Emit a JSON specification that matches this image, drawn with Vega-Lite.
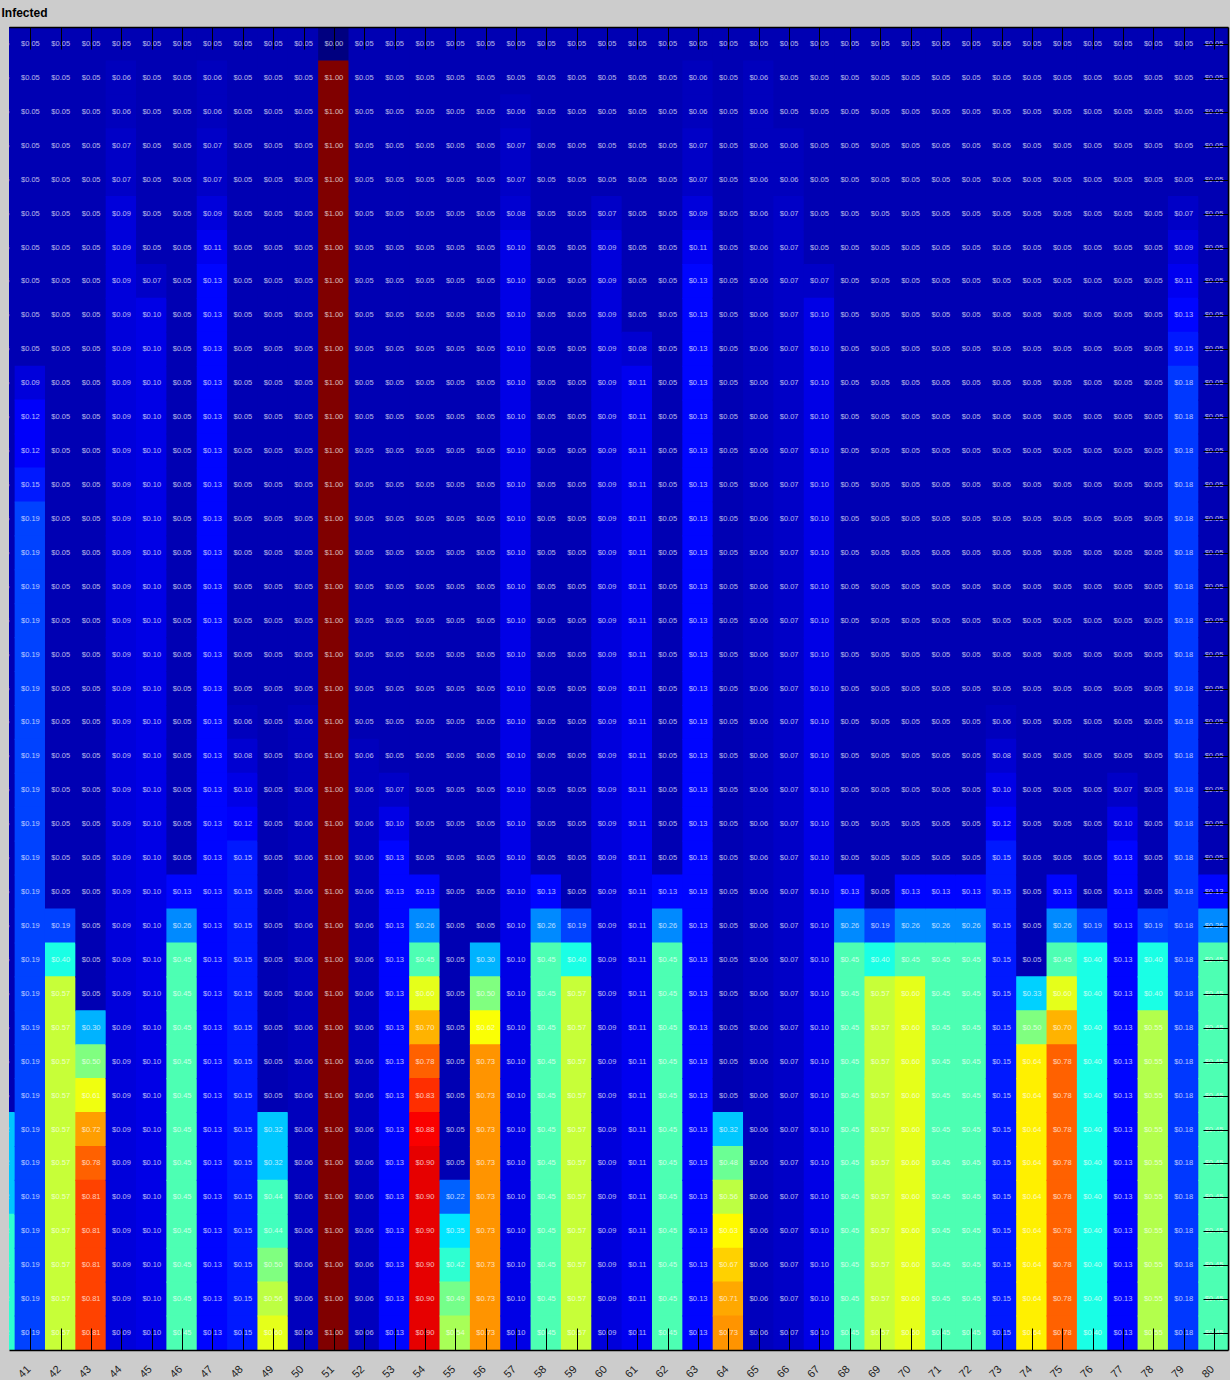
{
"$schema": "https://vega.github.io/schema/vega-lite/v6.json",
"width": 1219,
"height": 1323,
"autosize": {"type": "none"},
"padding": {"left": 9, "top": 27, "right": 2, "bottom": 30},
"background": "#cccccc",
"title": {"text": "Infected", "anchor": "start", "frame": "group", "dx": -7.5, "offset": -2, "baseline": "alphabetic", "fontSize": 12, "fontWeight": "bold", "font": "Liberation Sans", "color": "#000000"},
"config": {"font": "Liberation Sans", "view": {"stroke": null}},
"data": {"values": [
{"c":40,"r":0,"v":0.05},{"c":40,"r":1,"v":0.05},{"c":40,"r":2,"v":0.05},{"c":40,"r":3,"v":0.05},{"c":40,"r":4,"v":0.05},{"c":40,"r":5,"v":0.05},{"c":40,"r":6,"v":0.05},{"c":40,"r":7,"v":0.05},{"c":40,"r":8,"v":0.05},{"c":40,"r":9,"v":0.05},{"c":40,"r":10,"v":0.05},{"c":40,"r":11,"v":0.05},{"c":40,"r":12,"v":0.05},{"c":40,"r":13,"v":0.05},{"c":40,"r":14,"v":0.05},{"c":40,"r":15,"v":0.05},{"c":40,"r":16,"v":0.05},{"c":40,"r":17,"v":0.05},{"c":40,"r":18,"v":0.05},{"c":40,"r":19,"v":0.05},{"c":40,"r":20,"v":0.05},{"c":40,"r":21,"v":0.05},{"c":40,"r":22,"v":0.05},{"c":40,"r":23,"v":0.05},{"c":40,"r":24,"v":0.05},{"c":40,"r":25,"v":0.05},{"c":40,"r":26,"v":0.05},{"c":40,"r":27,"v":0.05},{"c":40,"r":28,"v":0.05},{"c":40,"r":29,"v":0.05},{"c":40,"r":30,"v":0.05},{"c":40,"r":31,"v":0.05},{"c":40,"r":32,"v":0.32},{"c":40,"r":33,"v":0.32},{"c":40,"r":34,"v":0.32},{"c":40,"r":35,"v":0.42},{"c":40,"r":36,"v":0.42},{"c":40,"r":37,"v":0.42},{"c":40,"r":38,"v":0.42},
{"c":41,"r":0,"v":0.05},{"c":41,"r":1,"v":0.05},{"c":41,"r":2,"v":0.05},{"c":41,"r":3,"v":0.05},{"c":41,"r":4,"v":0.05},{"c":41,"r":5,"v":0.05},{"c":41,"r":6,"v":0.05},{"c":41,"r":7,"v":0.05},{"c":41,"r":8,"v":0.05},{"c":41,"r":9,"v":0.05},{"c":41,"r":10,"v":0.09},{"c":41,"r":11,"v":0.12},{"c":41,"r":12,"v":0.12},{"c":41,"r":13,"v":0.15},{"c":41,"r":14,"v":0.19},{"c":41,"r":15,"v":0.19},{"c":41,"r":16,"v":0.19},{"c":41,"r":17,"v":0.19},{"c":41,"r":18,"v":0.19},{"c":41,"r":19,"v":0.19},{"c":41,"r":20,"v":0.19},{"c":41,"r":21,"v":0.19},{"c":41,"r":22,"v":0.19},{"c":41,"r":23,"v":0.19},{"c":41,"r":24,"v":0.19},{"c":41,"r":25,"v":0.19},{"c":41,"r":26,"v":0.19},{"c":41,"r":27,"v":0.19},{"c":41,"r":28,"v":0.19},{"c":41,"r":29,"v":0.19},{"c":41,"r":30,"v":0.19},{"c":41,"r":31,"v":0.19},{"c":41,"r":32,"v":0.19},{"c":41,"r":33,"v":0.19},{"c":41,"r":34,"v":0.19},{"c":41,"r":35,"v":0.19},{"c":41,"r":36,"v":0.19},{"c":41,"r":37,"v":0.19},{"c":41,"r":38,"v":0.19},
{"c":42,"r":0,"v":0.05},{"c":42,"r":1,"v":0.05},{"c":42,"r":2,"v":0.05},{"c":42,"r":3,"v":0.05},{"c":42,"r":4,"v":0.05},{"c":42,"r":5,"v":0.05},{"c":42,"r":6,"v":0.05},{"c":42,"r":7,"v":0.05},{"c":42,"r":8,"v":0.05},{"c":42,"r":9,"v":0.05},{"c":42,"r":10,"v":0.05},{"c":42,"r":11,"v":0.05},{"c":42,"r":12,"v":0.05},{"c":42,"r":13,"v":0.05},{"c":42,"r":14,"v":0.05},{"c":42,"r":15,"v":0.05},{"c":42,"r":16,"v":0.05},{"c":42,"r":17,"v":0.05},{"c":42,"r":18,"v":0.05},{"c":42,"r":19,"v":0.05},{"c":42,"r":20,"v":0.05},{"c":42,"r":21,"v":0.05},{"c":42,"r":22,"v":0.05},{"c":42,"r":23,"v":0.05},{"c":42,"r":24,"v":0.05},{"c":42,"r":25,"v":0.05},{"c":42,"r":26,"v":0.19},{"c":42,"r":27,"v":0.40},{"c":42,"r":28,"v":0.57},{"c":42,"r":29,"v":0.57},{"c":42,"r":30,"v":0.57},{"c":42,"r":31,"v":0.57},{"c":42,"r":32,"v":0.57},{"c":42,"r":33,"v":0.57},{"c":42,"r":34,"v":0.57},{"c":42,"r":35,"v":0.57},{"c":42,"r":36,"v":0.57},{"c":42,"r":37,"v":0.57},{"c":42,"r":38,"v":0.57},
{"c":43,"r":0,"v":0.05},{"c":43,"r":1,"v":0.05},{"c":43,"r":2,"v":0.05},{"c":43,"r":3,"v":0.05},{"c":43,"r":4,"v":0.05},{"c":43,"r":5,"v":0.05},{"c":43,"r":6,"v":0.05},{"c":43,"r":7,"v":0.05},{"c":43,"r":8,"v":0.05},{"c":43,"r":9,"v":0.05},{"c":43,"r":10,"v":0.05},{"c":43,"r":11,"v":0.05},{"c":43,"r":12,"v":0.05},{"c":43,"r":13,"v":0.05},{"c":43,"r":14,"v":0.05},{"c":43,"r":15,"v":0.05},{"c":43,"r":16,"v":0.05},{"c":43,"r":17,"v":0.05},{"c":43,"r":18,"v":0.05},{"c":43,"r":19,"v":0.05},{"c":43,"r":20,"v":0.05},{"c":43,"r":21,"v":0.05},{"c":43,"r":22,"v":0.05},{"c":43,"r":23,"v":0.05},{"c":43,"r":24,"v":0.05},{"c":43,"r":25,"v":0.05},{"c":43,"r":26,"v":0.05},{"c":43,"r":27,"v":0.05},{"c":43,"r":28,"v":0.05},{"c":43,"r":29,"v":0.30},{"c":43,"r":30,"v":0.50},{"c":43,"r":31,"v":0.61},{"c":43,"r":32,"v":0.72},{"c":43,"r":33,"v":0.78},{"c":43,"r":34,"v":0.81},{"c":43,"r":35,"v":0.81},{"c":43,"r":36,"v":0.81},{"c":43,"r":37,"v":0.81},{"c":43,"r":38,"v":0.81},
{"c":44,"r":0,"v":0.05},{"c":44,"r":1,"v":0.06},{"c":44,"r":2,"v":0.06},{"c":44,"r":3,"v":0.07},{"c":44,"r":4,"v":0.07},{"c":44,"r":5,"v":0.09},{"c":44,"r":6,"v":0.09},{"c":44,"r":7,"v":0.09},{"c":44,"r":8,"v":0.09},{"c":44,"r":9,"v":0.09},{"c":44,"r":10,"v":0.09},{"c":44,"r":11,"v":0.09},{"c":44,"r":12,"v":0.09},{"c":44,"r":13,"v":0.09},{"c":44,"r":14,"v":0.09},{"c":44,"r":15,"v":0.09},{"c":44,"r":16,"v":0.09},{"c":44,"r":17,"v":0.09},{"c":44,"r":18,"v":0.09},{"c":44,"r":19,"v":0.09},{"c":44,"r":20,"v":0.09},{"c":44,"r":21,"v":0.09},{"c":44,"r":22,"v":0.09},{"c":44,"r":23,"v":0.09},{"c":44,"r":24,"v":0.09},{"c":44,"r":25,"v":0.09},{"c":44,"r":26,"v":0.09},{"c":44,"r":27,"v":0.09},{"c":44,"r":28,"v":0.09},{"c":44,"r":29,"v":0.09},{"c":44,"r":30,"v":0.09},{"c":44,"r":31,"v":0.09},{"c":44,"r":32,"v":0.09},{"c":44,"r":33,"v":0.09},{"c":44,"r":34,"v":0.09},{"c":44,"r":35,"v":0.09},{"c":44,"r":36,"v":0.09},{"c":44,"r":37,"v":0.09},{"c":44,"r":38,"v":0.09},
{"c":45,"r":0,"v":0.05},{"c":45,"r":1,"v":0.05},{"c":45,"r":2,"v":0.05},{"c":45,"r":3,"v":0.05},{"c":45,"r":4,"v":0.05},{"c":45,"r":5,"v":0.05},{"c":45,"r":6,"v":0.05},{"c":45,"r":7,"v":0.07},{"c":45,"r":8,"v":0.10},{"c":45,"r":9,"v":0.10},{"c":45,"r":10,"v":0.10},{"c":45,"r":11,"v":0.10},{"c":45,"r":12,"v":0.10},{"c":45,"r":13,"v":0.10},{"c":45,"r":14,"v":0.10},{"c":45,"r":15,"v":0.10},{"c":45,"r":16,"v":0.10},{"c":45,"r":17,"v":0.10},{"c":45,"r":18,"v":0.10},{"c":45,"r":19,"v":0.10},{"c":45,"r":20,"v":0.10},{"c":45,"r":21,"v":0.10},{"c":45,"r":22,"v":0.10},{"c":45,"r":23,"v":0.10},{"c":45,"r":24,"v":0.10},{"c":45,"r":25,"v":0.10},{"c":45,"r":26,"v":0.10},{"c":45,"r":27,"v":0.10},{"c":45,"r":28,"v":0.10},{"c":45,"r":29,"v":0.10},{"c":45,"r":30,"v":0.10},{"c":45,"r":31,"v":0.10},{"c":45,"r":32,"v":0.10},{"c":45,"r":33,"v":0.10},{"c":45,"r":34,"v":0.10},{"c":45,"r":35,"v":0.10},{"c":45,"r":36,"v":0.10},{"c":45,"r":37,"v":0.10},{"c":45,"r":38,"v":0.10},
{"c":46,"r":0,"v":0.05},{"c":46,"r":1,"v":0.05},{"c":46,"r":2,"v":0.05},{"c":46,"r":3,"v":0.05},{"c":46,"r":4,"v":0.05},{"c":46,"r":5,"v":0.05},{"c":46,"r":6,"v":0.05},{"c":46,"r":7,"v":0.05},{"c":46,"r":8,"v":0.05},{"c":46,"r":9,"v":0.05},{"c":46,"r":10,"v":0.05},{"c":46,"r":11,"v":0.05},{"c":46,"r":12,"v":0.05},{"c":46,"r":13,"v":0.05},{"c":46,"r":14,"v":0.05},{"c":46,"r":15,"v":0.05},{"c":46,"r":16,"v":0.05},{"c":46,"r":17,"v":0.05},{"c":46,"r":18,"v":0.05},{"c":46,"r":19,"v":0.05},{"c":46,"r":20,"v":0.05},{"c":46,"r":21,"v":0.05},{"c":46,"r":22,"v":0.05},{"c":46,"r":23,"v":0.05},{"c":46,"r":24,"v":0.05},{"c":46,"r":25,"v":0.13},{"c":46,"r":26,"v":0.26},{"c":46,"r":27,"v":0.45},{"c":46,"r":28,"v":0.45},{"c":46,"r":29,"v":0.45},{"c":46,"r":30,"v":0.45},{"c":46,"r":31,"v":0.45},{"c":46,"r":32,"v":0.45},{"c":46,"r":33,"v":0.45},{"c":46,"r":34,"v":0.45},{"c":46,"r":35,"v":0.45},{"c":46,"r":36,"v":0.45},{"c":46,"r":37,"v":0.45},{"c":46,"r":38,"v":0.45},
{"c":47,"r":0,"v":0.05},{"c":47,"r":1,"v":0.06},{"c":47,"r":2,"v":0.06},{"c":47,"r":3,"v":0.07},{"c":47,"r":4,"v":0.07},{"c":47,"r":5,"v":0.09},{"c":47,"r":6,"v":0.11},{"c":47,"r":7,"v":0.13},{"c":47,"r":8,"v":0.13},{"c":47,"r":9,"v":0.13},{"c":47,"r":10,"v":0.13},{"c":47,"r":11,"v":0.13},{"c":47,"r":12,"v":0.13},{"c":47,"r":13,"v":0.13},{"c":47,"r":14,"v":0.13},{"c":47,"r":15,"v":0.13},{"c":47,"r":16,"v":0.13},{"c":47,"r":17,"v":0.13},{"c":47,"r":18,"v":0.13},{"c":47,"r":19,"v":0.13},{"c":47,"r":20,"v":0.13},{"c":47,"r":21,"v":0.13},{"c":47,"r":22,"v":0.13},{"c":47,"r":23,"v":0.13},{"c":47,"r":24,"v":0.13},{"c":47,"r":25,"v":0.13},{"c":47,"r":26,"v":0.13},{"c":47,"r":27,"v":0.13},{"c":47,"r":28,"v":0.13},{"c":47,"r":29,"v":0.13},{"c":47,"r":30,"v":0.13},{"c":47,"r":31,"v":0.13},{"c":47,"r":32,"v":0.13},{"c":47,"r":33,"v":0.13},{"c":47,"r":34,"v":0.13},{"c":47,"r":35,"v":0.13},{"c":47,"r":36,"v":0.13},{"c":47,"r":37,"v":0.13},{"c":47,"r":38,"v":0.13},
{"c":48,"r":0,"v":0.05},{"c":48,"r":1,"v":0.05},{"c":48,"r":2,"v":0.05},{"c":48,"r":3,"v":0.05},{"c":48,"r":4,"v":0.05},{"c":48,"r":5,"v":0.05},{"c":48,"r":6,"v":0.05},{"c":48,"r":7,"v":0.05},{"c":48,"r":8,"v":0.05},{"c":48,"r":9,"v":0.05},{"c":48,"r":10,"v":0.05},{"c":48,"r":11,"v":0.05},{"c":48,"r":12,"v":0.05},{"c":48,"r":13,"v":0.05},{"c":48,"r":14,"v":0.05},{"c":48,"r":15,"v":0.05},{"c":48,"r":16,"v":0.05},{"c":48,"r":17,"v":0.05},{"c":48,"r":18,"v":0.05},{"c":48,"r":19,"v":0.05},{"c":48,"r":20,"v":0.06},{"c":48,"r":21,"v":0.08},{"c":48,"r":22,"v":0.10},{"c":48,"r":23,"v":0.12},{"c":48,"r":24,"v":0.15},{"c":48,"r":25,"v":0.15},{"c":48,"r":26,"v":0.15},{"c":48,"r":27,"v":0.15},{"c":48,"r":28,"v":0.15},{"c":48,"r":29,"v":0.15},{"c":48,"r":30,"v":0.15},{"c":48,"r":31,"v":0.15},{"c":48,"r":32,"v":0.15},{"c":48,"r":33,"v":0.15},{"c":48,"r":34,"v":0.15},{"c":48,"r":35,"v":0.15},{"c":48,"r":36,"v":0.15},{"c":48,"r":37,"v":0.15},{"c":48,"r":38,"v":0.15},
{"c":49,"r":0,"v":0.05},{"c":49,"r":1,"v":0.05},{"c":49,"r":2,"v":0.05},{"c":49,"r":3,"v":0.05},{"c":49,"r":4,"v":0.05},{"c":49,"r":5,"v":0.05},{"c":49,"r":6,"v":0.05},{"c":49,"r":7,"v":0.05},{"c":49,"r":8,"v":0.05},{"c":49,"r":9,"v":0.05},{"c":49,"r":10,"v":0.05},{"c":49,"r":11,"v":0.05},{"c":49,"r":12,"v":0.05},{"c":49,"r":13,"v":0.05},{"c":49,"r":14,"v":0.05},{"c":49,"r":15,"v":0.05},{"c":49,"r":16,"v":0.05},{"c":49,"r":17,"v":0.05},{"c":49,"r":18,"v":0.05},{"c":49,"r":19,"v":0.05},{"c":49,"r":20,"v":0.05},{"c":49,"r":21,"v":0.05},{"c":49,"r":22,"v":0.05},{"c":49,"r":23,"v":0.05},{"c":49,"r":24,"v":0.05},{"c":49,"r":25,"v":0.05},{"c":49,"r":26,"v":0.05},{"c":49,"r":27,"v":0.05},{"c":49,"r":28,"v":0.05},{"c":49,"r":29,"v":0.05},{"c":49,"r":30,"v":0.05},{"c":49,"r":31,"v":0.05},{"c":49,"r":32,"v":0.32},{"c":49,"r":33,"v":0.32},{"c":49,"r":34,"v":0.44},{"c":49,"r":35,"v":0.44},{"c":49,"r":36,"v":0.50},{"c":49,"r":37,"v":0.56},{"c":49,"r":38,"v":0.60},
{"c":50,"r":0,"v":0.05},{"c":50,"r":1,"v":0.05},{"c":50,"r":2,"v":0.05},{"c":50,"r":3,"v":0.05},{"c":50,"r":4,"v":0.05},{"c":50,"r":5,"v":0.05},{"c":50,"r":6,"v":0.05},{"c":50,"r":7,"v":0.05},{"c":50,"r":8,"v":0.05},{"c":50,"r":9,"v":0.05},{"c":50,"r":10,"v":0.05},{"c":50,"r":11,"v":0.05},{"c":50,"r":12,"v":0.05},{"c":50,"r":13,"v":0.05},{"c":50,"r":14,"v":0.05},{"c":50,"r":15,"v":0.05},{"c":50,"r":16,"v":0.05},{"c":50,"r":17,"v":0.05},{"c":50,"r":18,"v":0.05},{"c":50,"r":19,"v":0.05},{"c":50,"r":20,"v":0.06},{"c":50,"r":21,"v":0.06},{"c":50,"r":22,"v":0.06},{"c":50,"r":23,"v":0.06},{"c":50,"r":24,"v":0.06},{"c":50,"r":25,"v":0.06},{"c":50,"r":26,"v":0.06},{"c":50,"r":27,"v":0.06},{"c":50,"r":28,"v":0.06},{"c":50,"r":29,"v":0.06},{"c":50,"r":30,"v":0.06},{"c":50,"r":31,"v":0.06},{"c":50,"r":32,"v":0.06},{"c":50,"r":33,"v":0.06},{"c":50,"r":34,"v":0.06},{"c":50,"r":35,"v":0.06},{"c":50,"r":36,"v":0.06},{"c":50,"r":37,"v":0.06},{"c":50,"r":38,"v":0.06},
{"c":51,"r":0,"v":0},{"c":51,"r":1,"v":1},{"c":51,"r":2,"v":1},{"c":51,"r":3,"v":1},{"c":51,"r":4,"v":1},{"c":51,"r":5,"v":1},{"c":51,"r":6,"v":1},{"c":51,"r":7,"v":1},{"c":51,"r":8,"v":1},{"c":51,"r":9,"v":1},{"c":51,"r":10,"v":1},{"c":51,"r":11,"v":1},{"c":51,"r":12,"v":1},{"c":51,"r":13,"v":1},{"c":51,"r":14,"v":1},{"c":51,"r":15,"v":1},{"c":51,"r":16,"v":1},{"c":51,"r":17,"v":1},{"c":51,"r":18,"v":1},{"c":51,"r":19,"v":1},{"c":51,"r":20,"v":1},{"c":51,"r":21,"v":1},{"c":51,"r":22,"v":1},{"c":51,"r":23,"v":1},{"c":51,"r":24,"v":1},{"c":51,"r":25,"v":1},{"c":51,"r":26,"v":1},{"c":51,"r":27,"v":1},{"c":51,"r":28,"v":1},{"c":51,"r":29,"v":1},{"c":51,"r":30,"v":1},{"c":51,"r":31,"v":1},{"c":51,"r":32,"v":1},{"c":51,"r":33,"v":1},{"c":51,"r":34,"v":1},{"c":51,"r":35,"v":1},{"c":51,"r":36,"v":1},{"c":51,"r":37,"v":1},{"c":51,"r":38,"v":1},
{"c":52,"r":0,"v":0.05},{"c":52,"r":1,"v":0.05},{"c":52,"r":2,"v":0.05},{"c":52,"r":3,"v":0.05},{"c":52,"r":4,"v":0.05},{"c":52,"r":5,"v":0.05},{"c":52,"r":6,"v":0.05},{"c":52,"r":7,"v":0.05},{"c":52,"r":8,"v":0.05},{"c":52,"r":9,"v":0.05},{"c":52,"r":10,"v":0.05},{"c":52,"r":11,"v":0.05},{"c":52,"r":12,"v":0.05},{"c":52,"r":13,"v":0.05},{"c":52,"r":14,"v":0.05},{"c":52,"r":15,"v":0.05},{"c":52,"r":16,"v":0.05},{"c":52,"r":17,"v":0.05},{"c":52,"r":18,"v":0.05},{"c":52,"r":19,"v":0.05},{"c":52,"r":20,"v":0.05},{"c":52,"r":21,"v":0.06},{"c":52,"r":22,"v":0.06},{"c":52,"r":23,"v":0.06},{"c":52,"r":24,"v":0.06},{"c":52,"r":25,"v":0.06},{"c":52,"r":26,"v":0.06},{"c":52,"r":27,"v":0.06},{"c":52,"r":28,"v":0.06},{"c":52,"r":29,"v":0.06},{"c":52,"r":30,"v":0.06},{"c":52,"r":31,"v":0.06},{"c":52,"r":32,"v":0.06},{"c":52,"r":33,"v":0.06},{"c":52,"r":34,"v":0.06},{"c":52,"r":35,"v":0.06},{"c":52,"r":36,"v":0.06},{"c":52,"r":37,"v":0.06},{"c":52,"r":38,"v":0.06},
{"c":53,"r":0,"v":0.05},{"c":53,"r":1,"v":0.05},{"c":53,"r":2,"v":0.05},{"c":53,"r":3,"v":0.05},{"c":53,"r":4,"v":0.05},{"c":53,"r":5,"v":0.05},{"c":53,"r":6,"v":0.05},{"c":53,"r":7,"v":0.05},{"c":53,"r":8,"v":0.05},{"c":53,"r":9,"v":0.05},{"c":53,"r":10,"v":0.05},{"c":53,"r":11,"v":0.05},{"c":53,"r":12,"v":0.05},{"c":53,"r":13,"v":0.05},{"c":53,"r":14,"v":0.05},{"c":53,"r":15,"v":0.05},{"c":53,"r":16,"v":0.05},{"c":53,"r":17,"v":0.05},{"c":53,"r":18,"v":0.05},{"c":53,"r":19,"v":0.05},{"c":53,"r":20,"v":0.05},{"c":53,"r":21,"v":0.05},{"c":53,"r":22,"v":0.07},{"c":53,"r":23,"v":0.10},{"c":53,"r":24,"v":0.13},{"c":53,"r":25,"v":0.13},{"c":53,"r":26,"v":0.13},{"c":53,"r":27,"v":0.13},{"c":53,"r":28,"v":0.13},{"c":53,"r":29,"v":0.13},{"c":53,"r":30,"v":0.13},{"c":53,"r":31,"v":0.13},{"c":53,"r":32,"v":0.13},{"c":53,"r":33,"v":0.13},{"c":53,"r":34,"v":0.13},{"c":53,"r":35,"v":0.13},{"c":53,"r":36,"v":0.13},{"c":53,"r":37,"v":0.13},{"c":53,"r":38,"v":0.13},
{"c":54,"r":0,"v":0.05},{"c":54,"r":1,"v":0.05},{"c":54,"r":2,"v":0.05},{"c":54,"r":3,"v":0.05},{"c":54,"r":4,"v":0.05},{"c":54,"r":5,"v":0.05},{"c":54,"r":6,"v":0.05},{"c":54,"r":7,"v":0.05},{"c":54,"r":8,"v":0.05},{"c":54,"r":9,"v":0.05},{"c":54,"r":10,"v":0.05},{"c":54,"r":11,"v":0.05},{"c":54,"r":12,"v":0.05},{"c":54,"r":13,"v":0.05},{"c":54,"r":14,"v":0.05},{"c":54,"r":15,"v":0.05},{"c":54,"r":16,"v":0.05},{"c":54,"r":17,"v":0.05},{"c":54,"r":18,"v":0.05},{"c":54,"r":19,"v":0.05},{"c":54,"r":20,"v":0.05},{"c":54,"r":21,"v":0.05},{"c":54,"r":22,"v":0.05},{"c":54,"r":23,"v":0.05},{"c":54,"r":24,"v":0.05},{"c":54,"r":25,"v":0.13},{"c":54,"r":26,"v":0.26},{"c":54,"r":27,"v":0.45},{"c":54,"r":28,"v":0.60},{"c":54,"r":29,"v":0.70},{"c":54,"r":30,"v":0.78},{"c":54,"r":31,"v":0.83},{"c":54,"r":32,"v":0.88},{"c":54,"r":33,"v":0.90},{"c":54,"r":34,"v":0.90},{"c":54,"r":35,"v":0.90},{"c":54,"r":36,"v":0.90},{"c":54,"r":37,"v":0.90},{"c":54,"r":38,"v":0.90},
{"c":55,"r":0,"v":0.05},{"c":55,"r":1,"v":0.05},{"c":55,"r":2,"v":0.05},{"c":55,"r":3,"v":0.05},{"c":55,"r":4,"v":0.05},{"c":55,"r":5,"v":0.05},{"c":55,"r":6,"v":0.05},{"c":55,"r":7,"v":0.05},{"c":55,"r":8,"v":0.05},{"c":55,"r":9,"v":0.05},{"c":55,"r":10,"v":0.05},{"c":55,"r":11,"v":0.05},{"c":55,"r":12,"v":0.05},{"c":55,"r":13,"v":0.05},{"c":55,"r":14,"v":0.05},{"c":55,"r":15,"v":0.05},{"c":55,"r":16,"v":0.05},{"c":55,"r":17,"v":0.05},{"c":55,"r":18,"v":0.05},{"c":55,"r":19,"v":0.05},{"c":55,"r":20,"v":0.05},{"c":55,"r":21,"v":0.05},{"c":55,"r":22,"v":0.05},{"c":55,"r":23,"v":0.05},{"c":55,"r":24,"v":0.05},{"c":55,"r":25,"v":0.05},{"c":55,"r":26,"v":0.05},{"c":55,"r":27,"v":0.05},{"c":55,"r":28,"v":0.05},{"c":55,"r":29,"v":0.05},{"c":55,"r":30,"v":0.05},{"c":55,"r":31,"v":0.05},{"c":55,"r":32,"v":0.05},{"c":55,"r":33,"v":0.05},{"c":55,"r":34,"v":0.22},{"c":55,"r":35,"v":0.35},{"c":55,"r":36,"v":0.42},{"c":55,"r":37,"v":0.49},{"c":55,"r":38,"v":0.54},
{"c":56,"r":0,"v":0.05},{"c":56,"r":1,"v":0.05},{"c":56,"r":2,"v":0.05},{"c":56,"r":3,"v":0.05},{"c":56,"r":4,"v":0.05},{"c":56,"r":5,"v":0.05},{"c":56,"r":6,"v":0.05},{"c":56,"r":7,"v":0.05},{"c":56,"r":8,"v":0.05},{"c":56,"r":9,"v":0.05},{"c":56,"r":10,"v":0.05},{"c":56,"r":11,"v":0.05},{"c":56,"r":12,"v":0.05},{"c":56,"r":13,"v":0.05},{"c":56,"r":14,"v":0.05},{"c":56,"r":15,"v":0.05},{"c":56,"r":16,"v":0.05},{"c":56,"r":17,"v":0.05},{"c":56,"r":18,"v":0.05},{"c":56,"r":19,"v":0.05},{"c":56,"r":20,"v":0.05},{"c":56,"r":21,"v":0.05},{"c":56,"r":22,"v":0.05},{"c":56,"r":23,"v":0.05},{"c":56,"r":24,"v":0.05},{"c":56,"r":25,"v":0.05},{"c":56,"r":26,"v":0.05},{"c":56,"r":27,"v":0.30},{"c":56,"r":28,"v":0.50},{"c":56,"r":29,"v":0.62},{"c":56,"r":30,"v":0.73},{"c":56,"r":31,"v":0.73},{"c":56,"r":32,"v":0.73},{"c":56,"r":33,"v":0.73},{"c":56,"r":34,"v":0.73},{"c":56,"r":35,"v":0.73},{"c":56,"r":36,"v":0.73},{"c":56,"r":37,"v":0.73},{"c":56,"r":38,"v":0.73},
{"c":57,"r":0,"v":0.05},{"c":57,"r":1,"v":0.05},{"c":57,"r":2,"v":0.06},{"c":57,"r":3,"v":0.07},{"c":57,"r":4,"v":0.07},{"c":57,"r":5,"v":0.08},{"c":57,"r":6,"v":0.10},{"c":57,"r":7,"v":0.10},{"c":57,"r":8,"v":0.10},{"c":57,"r":9,"v":0.10},{"c":57,"r":10,"v":0.10},{"c":57,"r":11,"v":0.10},{"c":57,"r":12,"v":0.10},{"c":57,"r":13,"v":0.10},{"c":57,"r":14,"v":0.10},{"c":57,"r":15,"v":0.10},{"c":57,"r":16,"v":0.10},{"c":57,"r":17,"v":0.10},{"c":57,"r":18,"v":0.10},{"c":57,"r":19,"v":0.10},{"c":57,"r":20,"v":0.10},{"c":57,"r":21,"v":0.10},{"c":57,"r":22,"v":0.10},{"c":57,"r":23,"v":0.10},{"c":57,"r":24,"v":0.10},{"c":57,"r":25,"v":0.10},{"c":57,"r":26,"v":0.10},{"c":57,"r":27,"v":0.10},{"c":57,"r":28,"v":0.10},{"c":57,"r":29,"v":0.10},{"c":57,"r":30,"v":0.10},{"c":57,"r":31,"v":0.10},{"c":57,"r":32,"v":0.10},{"c":57,"r":33,"v":0.10},{"c":57,"r":34,"v":0.10},{"c":57,"r":35,"v":0.10},{"c":57,"r":36,"v":0.10},{"c":57,"r":37,"v":0.10},{"c":57,"r":38,"v":0.10},
{"c":58,"r":0,"v":0.05},{"c":58,"r":1,"v":0.05},{"c":58,"r":2,"v":0.05},{"c":58,"r":3,"v":0.05},{"c":58,"r":4,"v":0.05},{"c":58,"r":5,"v":0.05},{"c":58,"r":6,"v":0.05},{"c":58,"r":7,"v":0.05},{"c":58,"r":8,"v":0.05},{"c":58,"r":9,"v":0.05},{"c":58,"r":10,"v":0.05},{"c":58,"r":11,"v":0.05},{"c":58,"r":12,"v":0.05},{"c":58,"r":13,"v":0.05},{"c":58,"r":14,"v":0.05},{"c":58,"r":15,"v":0.05},{"c":58,"r":16,"v":0.05},{"c":58,"r":17,"v":0.05},{"c":58,"r":18,"v":0.05},{"c":58,"r":19,"v":0.05},{"c":58,"r":20,"v":0.05},{"c":58,"r":21,"v":0.05},{"c":58,"r":22,"v":0.05},{"c":58,"r":23,"v":0.05},{"c":58,"r":24,"v":0.05},{"c":58,"r":25,"v":0.13},{"c":58,"r":26,"v":0.26},{"c":58,"r":27,"v":0.45},{"c":58,"r":28,"v":0.45},{"c":58,"r":29,"v":0.45},{"c":58,"r":30,"v":0.45},{"c":58,"r":31,"v":0.45},{"c":58,"r":32,"v":0.45},{"c":58,"r":33,"v":0.45},{"c":58,"r":34,"v":0.45},{"c":58,"r":35,"v":0.45},{"c":58,"r":36,"v":0.45},{"c":58,"r":37,"v":0.45},{"c":58,"r":38,"v":0.45},
{"c":59,"r":0,"v":0.05},{"c":59,"r":1,"v":0.05},{"c":59,"r":2,"v":0.05},{"c":59,"r":3,"v":0.05},{"c":59,"r":4,"v":0.05},{"c":59,"r":5,"v":0.05},{"c":59,"r":6,"v":0.05},{"c":59,"r":7,"v":0.05},{"c":59,"r":8,"v":0.05},{"c":59,"r":9,"v":0.05},{"c":59,"r":10,"v":0.05},{"c":59,"r":11,"v":0.05},{"c":59,"r":12,"v":0.05},{"c":59,"r":13,"v":0.05},{"c":59,"r":14,"v":0.05},{"c":59,"r":15,"v":0.05},{"c":59,"r":16,"v":0.05},{"c":59,"r":17,"v":0.05},{"c":59,"r":18,"v":0.05},{"c":59,"r":19,"v":0.05},{"c":59,"r":20,"v":0.05},{"c":59,"r":21,"v":0.05},{"c":59,"r":22,"v":0.05},{"c":59,"r":23,"v":0.05},{"c":59,"r":24,"v":0.05},{"c":59,"r":25,"v":0.05},{"c":59,"r":26,"v":0.19},{"c":59,"r":27,"v":0.40},{"c":59,"r":28,"v":0.57},{"c":59,"r":29,"v":0.57},{"c":59,"r":30,"v":0.57},{"c":59,"r":31,"v":0.57},{"c":59,"r":32,"v":0.57},{"c":59,"r":33,"v":0.57},{"c":59,"r":34,"v":0.57},{"c":59,"r":35,"v":0.57},{"c":59,"r":36,"v":0.57},{"c":59,"r":37,"v":0.57},{"c":59,"r":38,"v":0.57},
{"c":60,"r":0,"v":0.05},{"c":60,"r":1,"v":0.05},{"c":60,"r":2,"v":0.05},{"c":60,"r":3,"v":0.05},{"c":60,"r":4,"v":0.05},{"c":60,"r":5,"v":0.07},{"c":60,"r":6,"v":0.09},{"c":60,"r":7,"v":0.09},{"c":60,"r":8,"v":0.09},{"c":60,"r":9,"v":0.09},{"c":60,"r":10,"v":0.09},{"c":60,"r":11,"v":0.09},{"c":60,"r":12,"v":0.09},{"c":60,"r":13,"v":0.09},{"c":60,"r":14,"v":0.09},{"c":60,"r":15,"v":0.09},{"c":60,"r":16,"v":0.09},{"c":60,"r":17,"v":0.09},{"c":60,"r":18,"v":0.09},{"c":60,"r":19,"v":0.09},{"c":60,"r":20,"v":0.09},{"c":60,"r":21,"v":0.09},{"c":60,"r":22,"v":0.09},{"c":60,"r":23,"v":0.09},{"c":60,"r":24,"v":0.09},{"c":60,"r":25,"v":0.09},{"c":60,"r":26,"v":0.09},{"c":60,"r":27,"v":0.09},{"c":60,"r":28,"v":0.09},{"c":60,"r":29,"v":0.09},{"c":60,"r":30,"v":0.09},{"c":60,"r":31,"v":0.09},{"c":60,"r":32,"v":0.09},{"c":60,"r":33,"v":0.09},{"c":60,"r":34,"v":0.09},{"c":60,"r":35,"v":0.09},{"c":60,"r":36,"v":0.09},{"c":60,"r":37,"v":0.09},{"c":60,"r":38,"v":0.09},
{"c":61,"r":0,"v":0.05},{"c":61,"r":1,"v":0.05},{"c":61,"r":2,"v":0.05},{"c":61,"r":3,"v":0.05},{"c":61,"r":4,"v":0.05},{"c":61,"r":5,"v":0.05},{"c":61,"r":6,"v":0.05},{"c":61,"r":7,"v":0.05},{"c":61,"r":8,"v":0.05},{"c":61,"r":9,"v":0.08},{"c":61,"r":10,"v":0.11},{"c":61,"r":11,"v":0.11},{"c":61,"r":12,"v":0.11},{"c":61,"r":13,"v":0.11},{"c":61,"r":14,"v":0.11},{"c":61,"r":15,"v":0.11},{"c":61,"r":16,"v":0.11},{"c":61,"r":17,"v":0.11},{"c":61,"r":18,"v":0.11},{"c":61,"r":19,"v":0.11},{"c":61,"r":20,"v":0.11},{"c":61,"r":21,"v":0.11},{"c":61,"r":22,"v":0.11},{"c":61,"r":23,"v":0.11},{"c":61,"r":24,"v":0.11},{"c":61,"r":25,"v":0.11},{"c":61,"r":26,"v":0.11},{"c":61,"r":27,"v":0.11},{"c":61,"r":28,"v":0.11},{"c":61,"r":29,"v":0.11},{"c":61,"r":30,"v":0.11},{"c":61,"r":31,"v":0.11},{"c":61,"r":32,"v":0.11},{"c":61,"r":33,"v":0.11},{"c":61,"r":34,"v":0.11},{"c":61,"r":35,"v":0.11},{"c":61,"r":36,"v":0.11},{"c":61,"r":37,"v":0.11},{"c":61,"r":38,"v":0.11},
{"c":62,"r":0,"v":0.05},{"c":62,"r":1,"v":0.05},{"c":62,"r":2,"v":0.05},{"c":62,"r":3,"v":0.05},{"c":62,"r":4,"v":0.05},{"c":62,"r":5,"v":0.05},{"c":62,"r":6,"v":0.05},{"c":62,"r":7,"v":0.05},{"c":62,"r":8,"v":0.05},{"c":62,"r":9,"v":0.05},{"c":62,"r":10,"v":0.05},{"c":62,"r":11,"v":0.05},{"c":62,"r":12,"v":0.05},{"c":62,"r":13,"v":0.05},{"c":62,"r":14,"v":0.05},{"c":62,"r":15,"v":0.05},{"c":62,"r":16,"v":0.05},{"c":62,"r":17,"v":0.05},{"c":62,"r":18,"v":0.05},{"c":62,"r":19,"v":0.05},{"c":62,"r":20,"v":0.05},{"c":62,"r":21,"v":0.05},{"c":62,"r":22,"v":0.05},{"c":62,"r":23,"v":0.05},{"c":62,"r":24,"v":0.05},{"c":62,"r":25,"v":0.13},{"c":62,"r":26,"v":0.26},{"c":62,"r":27,"v":0.45},{"c":62,"r":28,"v":0.45},{"c":62,"r":29,"v":0.45},{"c":62,"r":30,"v":0.45},{"c":62,"r":31,"v":0.45},{"c":62,"r":32,"v":0.45},{"c":62,"r":33,"v":0.45},{"c":62,"r":34,"v":0.45},{"c":62,"r":35,"v":0.45},{"c":62,"r":36,"v":0.45},{"c":62,"r":37,"v":0.45},{"c":62,"r":38,"v":0.45},
{"c":63,"r":0,"v":0.05},{"c":63,"r":1,"v":0.06},{"c":63,"r":2,"v":0.06},{"c":63,"r":3,"v":0.07},{"c":63,"r":4,"v":0.07},{"c":63,"r":5,"v":0.09},{"c":63,"r":6,"v":0.11},{"c":63,"r":7,"v":0.13},{"c":63,"r":8,"v":0.13},{"c":63,"r":9,"v":0.13},{"c":63,"r":10,"v":0.13},{"c":63,"r":11,"v":0.13},{"c":63,"r":12,"v":0.13},{"c":63,"r":13,"v":0.13},{"c":63,"r":14,"v":0.13},{"c":63,"r":15,"v":0.13},{"c":63,"r":16,"v":0.13},{"c":63,"r":17,"v":0.13},{"c":63,"r":18,"v":0.13},{"c":63,"r":19,"v":0.13},{"c":63,"r":20,"v":0.13},{"c":63,"r":21,"v":0.13},{"c":63,"r":22,"v":0.13},{"c":63,"r":23,"v":0.13},{"c":63,"r":24,"v":0.13},{"c":63,"r":25,"v":0.13},{"c":63,"r":26,"v":0.13},{"c":63,"r":27,"v":0.13},{"c":63,"r":28,"v":0.13},{"c":63,"r":29,"v":0.13},{"c":63,"r":30,"v":0.13},{"c":63,"r":31,"v":0.13},{"c":63,"r":32,"v":0.13},{"c":63,"r":33,"v":0.13},{"c":63,"r":34,"v":0.13},{"c":63,"r":35,"v":0.13},{"c":63,"r":36,"v":0.13},{"c":63,"r":37,"v":0.13},{"c":63,"r":38,"v":0.13},
{"c":64,"r":0,"v":0.05},{"c":64,"r":1,"v":0.05},{"c":64,"r":2,"v":0.05},{"c":64,"r":3,"v":0.05},{"c":64,"r":4,"v":0.05},{"c":64,"r":5,"v":0.05},{"c":64,"r":6,"v":0.05},{"c":64,"r":7,"v":0.05},{"c":64,"r":8,"v":0.05},{"c":64,"r":9,"v":0.05},{"c":64,"r":10,"v":0.05},{"c":64,"r":11,"v":0.05},{"c":64,"r":12,"v":0.05},{"c":64,"r":13,"v":0.05},{"c":64,"r":14,"v":0.05},{"c":64,"r":15,"v":0.05},{"c":64,"r":16,"v":0.05},{"c":64,"r":17,"v":0.05},{"c":64,"r":18,"v":0.05},{"c":64,"r":19,"v":0.05},{"c":64,"r":20,"v":0.05},{"c":64,"r":21,"v":0.05},{"c":64,"r":22,"v":0.05},{"c":64,"r":23,"v":0.05},{"c":64,"r":24,"v":0.05},{"c":64,"r":25,"v":0.05},{"c":64,"r":26,"v":0.05},{"c":64,"r":27,"v":0.05},{"c":64,"r":28,"v":0.05},{"c":64,"r":29,"v":0.05},{"c":64,"r":30,"v":0.05},{"c":64,"r":31,"v":0.05},{"c":64,"r":32,"v":0.32},{"c":64,"r":33,"v":0.48},{"c":64,"r":34,"v":0.56},{"c":64,"r":35,"v":0.63},{"c":64,"r":36,"v":0.67},{"c":64,"r":37,"v":0.71},{"c":64,"r":38,"v":0.73},
{"c":65,"r":0,"v":0.05},{"c":65,"r":1,"v":0.06},{"c":65,"r":2,"v":0.06},{"c":65,"r":3,"v":0.06},{"c":65,"r":4,"v":0.06},{"c":65,"r":5,"v":0.06},{"c":65,"r":6,"v":0.06},{"c":65,"r":7,"v":0.06},{"c":65,"r":8,"v":0.06},{"c":65,"r":9,"v":0.06},{"c":65,"r":10,"v":0.06},{"c":65,"r":11,"v":0.06},{"c":65,"r":12,"v":0.06},{"c":65,"r":13,"v":0.06},{"c":65,"r":14,"v":0.06},{"c":65,"r":15,"v":0.06},{"c":65,"r":16,"v":0.06},{"c":65,"r":17,"v":0.06},{"c":65,"r":18,"v":0.06},{"c":65,"r":19,"v":0.06},{"c":65,"r":20,"v":0.06},{"c":65,"r":21,"v":0.06},{"c":65,"r":22,"v":0.06},{"c":65,"r":23,"v":0.06},{"c":65,"r":24,"v":0.06},{"c":65,"r":25,"v":0.06},{"c":65,"r":26,"v":0.06},{"c":65,"r":27,"v":0.06},{"c":65,"r":28,"v":0.06},{"c":65,"r":29,"v":0.06},{"c":65,"r":30,"v":0.06},{"c":65,"r":31,"v":0.06},{"c":65,"r":32,"v":0.06},{"c":65,"r":33,"v":0.06},{"c":65,"r":34,"v":0.06},{"c":65,"r":35,"v":0.06},{"c":65,"r":36,"v":0.06},{"c":65,"r":37,"v":0.06},{"c":65,"r":38,"v":0.06},
{"c":66,"r":0,"v":0.05},{"c":66,"r":1,"v":0.05},{"c":66,"r":2,"v":0.05},{"c":66,"r":3,"v":0.06},{"c":66,"r":4,"v":0.06},{"c":66,"r":5,"v":0.07},{"c":66,"r":6,"v":0.07},{"c":66,"r":7,"v":0.07},{"c":66,"r":8,"v":0.07},{"c":66,"r":9,"v":0.07},{"c":66,"r":10,"v":0.07},{"c":66,"r":11,"v":0.07},{"c":66,"r":12,"v":0.07},{"c":66,"r":13,"v":0.07},{"c":66,"r":14,"v":0.07},{"c":66,"r":15,"v":0.07},{"c":66,"r":16,"v":0.07},{"c":66,"r":17,"v":0.07},{"c":66,"r":18,"v":0.07},{"c":66,"r":19,"v":0.07},{"c":66,"r":20,"v":0.07},{"c":66,"r":21,"v":0.07},{"c":66,"r":22,"v":0.07},{"c":66,"r":23,"v":0.07},{"c":66,"r":24,"v":0.07},{"c":66,"r":25,"v":0.07},{"c":66,"r":26,"v":0.07},{"c":66,"r":27,"v":0.07},{"c":66,"r":28,"v":0.07},{"c":66,"r":29,"v":0.07},{"c":66,"r":30,"v":0.07},{"c":66,"r":31,"v":0.07},{"c":66,"r":32,"v":0.07},{"c":66,"r":33,"v":0.07},{"c":66,"r":34,"v":0.07},{"c":66,"r":35,"v":0.07},{"c":66,"r":36,"v":0.07},{"c":66,"r":37,"v":0.07},{"c":66,"r":38,"v":0.07},
{"c":67,"r":0,"v":0.05},{"c":67,"r":1,"v":0.05},{"c":67,"r":2,"v":0.05},{"c":67,"r":3,"v":0.05},{"c":67,"r":4,"v":0.05},{"c":67,"r":5,"v":0.05},{"c":67,"r":6,"v":0.05},{"c":67,"r":7,"v":0.07},{"c":67,"r":8,"v":0.10},{"c":67,"r":9,"v":0.10},{"c":67,"r":10,"v":0.10},{"c":67,"r":11,"v":0.10},{"c":67,"r":12,"v":0.10},{"c":67,"r":13,"v":0.10},{"c":67,"r":14,"v":0.10},{"c":67,"r":15,"v":0.10},{"c":67,"r":16,"v":0.10},{"c":67,"r":17,"v":0.10},{"c":67,"r":18,"v":0.10},{"c":67,"r":19,"v":0.10},{"c":67,"r":20,"v":0.10},{"c":67,"r":21,"v":0.10},{"c":67,"r":22,"v":0.10},{"c":67,"r":23,"v":0.10},{"c":67,"r":24,"v":0.10},{"c":67,"r":25,"v":0.10},{"c":67,"r":26,"v":0.10},{"c":67,"r":27,"v":0.10},{"c":67,"r":28,"v":0.10},{"c":67,"r":29,"v":0.10},{"c":67,"r":30,"v":0.10},{"c":67,"r":31,"v":0.10},{"c":67,"r":32,"v":0.10},{"c":67,"r":33,"v":0.10},{"c":67,"r":34,"v":0.10},{"c":67,"r":35,"v":0.10},{"c":67,"r":36,"v":0.10},{"c":67,"r":37,"v":0.10},{"c":67,"r":38,"v":0.10},
{"c":68,"r":0,"v":0.05},{"c":68,"r":1,"v":0.05},{"c":68,"r":2,"v":0.05},{"c":68,"r":3,"v":0.05},{"c":68,"r":4,"v":0.05},{"c":68,"r":5,"v":0.05},{"c":68,"r":6,"v":0.05},{"c":68,"r":7,"v":0.05},{"c":68,"r":8,"v":0.05},{"c":68,"r":9,"v":0.05},{"c":68,"r":10,"v":0.05},{"c":68,"r":11,"v":0.05},{"c":68,"r":12,"v":0.05},{"c":68,"r":13,"v":0.05},{"c":68,"r":14,"v":0.05},{"c":68,"r":15,"v":0.05},{"c":68,"r":16,"v":0.05},{"c":68,"r":17,"v":0.05},{"c":68,"r":18,"v":0.05},{"c":68,"r":19,"v":0.05},{"c":68,"r":20,"v":0.05},{"c":68,"r":21,"v":0.05},{"c":68,"r":22,"v":0.05},{"c":68,"r":23,"v":0.05},{"c":68,"r":24,"v":0.05},{"c":68,"r":25,"v":0.13},{"c":68,"r":26,"v":0.26},{"c":68,"r":27,"v":0.45},{"c":68,"r":28,"v":0.45},{"c":68,"r":29,"v":0.45},{"c":68,"r":30,"v":0.45},{"c":68,"r":31,"v":0.45},{"c":68,"r":32,"v":0.45},{"c":68,"r":33,"v":0.45},{"c":68,"r":34,"v":0.45},{"c":68,"r":35,"v":0.45},{"c":68,"r":36,"v":0.45},{"c":68,"r":37,"v":0.45},{"c":68,"r":38,"v":0.45},
{"c":69,"r":0,"v":0.05},{"c":69,"r":1,"v":0.05},{"c":69,"r":2,"v":0.05},{"c":69,"r":3,"v":0.05},{"c":69,"r":4,"v":0.05},{"c":69,"r":5,"v":0.05},{"c":69,"r":6,"v":0.05},{"c":69,"r":7,"v":0.05},{"c":69,"r":8,"v":0.05},{"c":69,"r":9,"v":0.05},{"c":69,"r":10,"v":0.05},{"c":69,"r":11,"v":0.05},{"c":69,"r":12,"v":0.05},{"c":69,"r":13,"v":0.05},{"c":69,"r":14,"v":0.05},{"c":69,"r":15,"v":0.05},{"c":69,"r":16,"v":0.05},{"c":69,"r":17,"v":0.05},{"c":69,"r":18,"v":0.05},{"c":69,"r":19,"v":0.05},{"c":69,"r":20,"v":0.05},{"c":69,"r":21,"v":0.05},{"c":69,"r":22,"v":0.05},{"c":69,"r":23,"v":0.05},{"c":69,"r":24,"v":0.05},{"c":69,"r":25,"v":0.05},{"c":69,"r":26,"v":0.19},{"c":69,"r":27,"v":0.40},{"c":69,"r":28,"v":0.57},{"c":69,"r":29,"v":0.57},{"c":69,"r":30,"v":0.57},{"c":69,"r":31,"v":0.57},{"c":69,"r":32,"v":0.57},{"c":69,"r":33,"v":0.57},{"c":69,"r":34,"v":0.57},{"c":69,"r":35,"v":0.57},{"c":69,"r":36,"v":0.57},{"c":69,"r":37,"v":0.57},{"c":69,"r":38,"v":0.57},
{"c":70,"r":0,"v":0.05},{"c":70,"r":1,"v":0.05},{"c":70,"r":2,"v":0.05},{"c":70,"r":3,"v":0.05},{"c":70,"r":4,"v":0.05},{"c":70,"r":5,"v":0.05},{"c":70,"r":6,"v":0.05},{"c":70,"r":7,"v":0.05},{"c":70,"r":8,"v":0.05},{"c":70,"r":9,"v":0.05},{"c":70,"r":10,"v":0.05},{"c":70,"r":11,"v":0.05},{"c":70,"r":12,"v":0.05},{"c":70,"r":13,"v":0.05},{"c":70,"r":14,"v":0.05},{"c":70,"r":15,"v":0.05},{"c":70,"r":16,"v":0.05},{"c":70,"r":17,"v":0.05},{"c":70,"r":18,"v":0.05},{"c":70,"r":19,"v":0.05},{"c":70,"r":20,"v":0.05},{"c":70,"r":21,"v":0.05},{"c":70,"r":22,"v":0.05},{"c":70,"r":23,"v":0.05},{"c":70,"r":24,"v":0.05},{"c":70,"r":25,"v":0.13},{"c":70,"r":26,"v":0.26},{"c":70,"r":27,"v":0.45},{"c":70,"r":28,"v":0.60},{"c":70,"r":29,"v":0.60},{"c":70,"r":30,"v":0.60},{"c":70,"r":31,"v":0.60},{"c":70,"r":32,"v":0.60},{"c":70,"r":33,"v":0.60},{"c":70,"r":34,"v":0.60},{"c":70,"r":35,"v":0.60},{"c":70,"r":36,"v":0.60},{"c":70,"r":37,"v":0.60},{"c":70,"r":38,"v":0.60},
{"c":71,"r":0,"v":0.05},{"c":71,"r":1,"v":0.05},{"c":71,"r":2,"v":0.05},{"c":71,"r":3,"v":0.05},{"c":71,"r":4,"v":0.05},{"c":71,"r":5,"v":0.05},{"c":71,"r":6,"v":0.05},{"c":71,"r":7,"v":0.05},{"c":71,"r":8,"v":0.05},{"c":71,"r":9,"v":0.05},{"c":71,"r":10,"v":0.05},{"c":71,"r":11,"v":0.05},{"c":71,"r":12,"v":0.05},{"c":71,"r":13,"v":0.05},{"c":71,"r":14,"v":0.05},{"c":71,"r":15,"v":0.05},{"c":71,"r":16,"v":0.05},{"c":71,"r":17,"v":0.05},{"c":71,"r":18,"v":0.05},{"c":71,"r":19,"v":0.05},{"c":71,"r":20,"v":0.05},{"c":71,"r":21,"v":0.05},{"c":71,"r":22,"v":0.05},{"c":71,"r":23,"v":0.05},{"c":71,"r":24,"v":0.05},{"c":71,"r":25,"v":0.13},{"c":71,"r":26,"v":0.26},{"c":71,"r":27,"v":0.45},{"c":71,"r":28,"v":0.45},{"c":71,"r":29,"v":0.45},{"c":71,"r":30,"v":0.45},{"c":71,"r":31,"v":0.45},{"c":71,"r":32,"v":0.45},{"c":71,"r":33,"v":0.45},{"c":71,"r":34,"v":0.45},{"c":71,"r":35,"v":0.45},{"c":71,"r":36,"v":0.45},{"c":71,"r":37,"v":0.45},{"c":71,"r":38,"v":0.45},
{"c":72,"r":0,"v":0.05},{"c":72,"r":1,"v":0.05},{"c":72,"r":2,"v":0.05},{"c":72,"r":3,"v":0.05},{"c":72,"r":4,"v":0.05},{"c":72,"r":5,"v":0.05},{"c":72,"r":6,"v":0.05},{"c":72,"r":7,"v":0.05},{"c":72,"r":8,"v":0.05},{"c":72,"r":9,"v":0.05},{"c":72,"r":10,"v":0.05},{"c":72,"r":11,"v":0.05},{"c":72,"r":12,"v":0.05},{"c":72,"r":13,"v":0.05},{"c":72,"r":14,"v":0.05},{"c":72,"r":15,"v":0.05},{"c":72,"r":16,"v":0.05},{"c":72,"r":17,"v":0.05},{"c":72,"r":18,"v":0.05},{"c":72,"r":19,"v":0.05},{"c":72,"r":20,"v":0.05},{"c":72,"r":21,"v":0.05},{"c":72,"r":22,"v":0.05},{"c":72,"r":23,"v":0.05},{"c":72,"r":24,"v":0.05},{"c":72,"r":25,"v":0.13},{"c":72,"r":26,"v":0.26},{"c":72,"r":27,"v":0.45},{"c":72,"r":28,"v":0.45},{"c":72,"r":29,"v":0.45},{"c":72,"r":30,"v":0.45},{"c":72,"r":31,"v":0.45},{"c":72,"r":32,"v":0.45},{"c":72,"r":33,"v":0.45},{"c":72,"r":34,"v":0.45},{"c":72,"r":35,"v":0.45},{"c":72,"r":36,"v":0.45},{"c":72,"r":37,"v":0.45},{"c":72,"r":38,"v":0.45},
{"c":73,"r":0,"v":0.05},{"c":73,"r":1,"v":0.05},{"c":73,"r":2,"v":0.05},{"c":73,"r":3,"v":0.05},{"c":73,"r":4,"v":0.05},{"c":73,"r":5,"v":0.05},{"c":73,"r":6,"v":0.05},{"c":73,"r":7,"v":0.05},{"c":73,"r":8,"v":0.05},{"c":73,"r":9,"v":0.05},{"c":73,"r":10,"v":0.05},{"c":73,"r":11,"v":0.05},{"c":73,"r":12,"v":0.05},{"c":73,"r":13,"v":0.05},{"c":73,"r":14,"v":0.05},{"c":73,"r":15,"v":0.05},{"c":73,"r":16,"v":0.05},{"c":73,"r":17,"v":0.05},{"c":73,"r":18,"v":0.05},{"c":73,"r":19,"v":0.05},{"c":73,"r":20,"v":0.06},{"c":73,"r":21,"v":0.08},{"c":73,"r":22,"v":0.10},{"c":73,"r":23,"v":0.12},{"c":73,"r":24,"v":0.15},{"c":73,"r":25,"v":0.15},{"c":73,"r":26,"v":0.15},{"c":73,"r":27,"v":0.15},{"c":73,"r":28,"v":0.15},{"c":73,"r":29,"v":0.15},{"c":73,"r":30,"v":0.15},{"c":73,"r":31,"v":0.15},{"c":73,"r":32,"v":0.15},{"c":73,"r":33,"v":0.15},{"c":73,"r":34,"v":0.15},{"c":73,"r":35,"v":0.15},{"c":73,"r":36,"v":0.15},{"c":73,"r":37,"v":0.15},{"c":73,"r":38,"v":0.15},
{"c":74,"r":0,"v":0.05},{"c":74,"r":1,"v":0.05},{"c":74,"r":2,"v":0.05},{"c":74,"r":3,"v":0.05},{"c":74,"r":4,"v":0.05},{"c":74,"r":5,"v":0.05},{"c":74,"r":6,"v":0.05},{"c":74,"r":7,"v":0.05},{"c":74,"r":8,"v":0.05},{"c":74,"r":9,"v":0.05},{"c":74,"r":10,"v":0.05},{"c":74,"r":11,"v":0.05},{"c":74,"r":12,"v":0.05},{"c":74,"r":13,"v":0.05},{"c":74,"r":14,"v":0.05},{"c":74,"r":15,"v":0.05},{"c":74,"r":16,"v":0.05},{"c":74,"r":17,"v":0.05},{"c":74,"r":18,"v":0.05},{"c":74,"r":19,"v":0.05},{"c":74,"r":20,"v":0.05},{"c":74,"r":21,"v":0.05},{"c":74,"r":22,"v":0.05},{"c":74,"r":23,"v":0.05},{"c":74,"r":24,"v":0.05},{"c":74,"r":25,"v":0.05},{"c":74,"r":26,"v":0.05},{"c":74,"r":27,"v":0.05},{"c":74,"r":28,"v":0.33},{"c":74,"r":29,"v":0.50},{"c":74,"r":30,"v":0.64},{"c":74,"r":31,"v":0.64},{"c":74,"r":32,"v":0.64},{"c":74,"r":33,"v":0.64},{"c":74,"r":34,"v":0.64},{"c":74,"r":35,"v":0.64},{"c":74,"r":36,"v":0.64},{"c":74,"r":37,"v":0.64},{"c":74,"r":38,"v":0.64},
{"c":75,"r":0,"v":0.05},{"c":75,"r":1,"v":0.05},{"c":75,"r":2,"v":0.05},{"c":75,"r":3,"v":0.05},{"c":75,"r":4,"v":0.05},{"c":75,"r":5,"v":0.05},{"c":75,"r":6,"v":0.05},{"c":75,"r":7,"v":0.05},{"c":75,"r":8,"v":0.05},{"c":75,"r":9,"v":0.05},{"c":75,"r":10,"v":0.05},{"c":75,"r":11,"v":0.05},{"c":75,"r":12,"v":0.05},{"c":75,"r":13,"v":0.05},{"c":75,"r":14,"v":0.05},{"c":75,"r":15,"v":0.05},{"c":75,"r":16,"v":0.05},{"c":75,"r":17,"v":0.05},{"c":75,"r":18,"v":0.05},{"c":75,"r":19,"v":0.05},{"c":75,"r":20,"v":0.05},{"c":75,"r":21,"v":0.05},{"c":75,"r":22,"v":0.05},{"c":75,"r":23,"v":0.05},{"c":75,"r":24,"v":0.05},{"c":75,"r":25,"v":0.13},{"c":75,"r":26,"v":0.26},{"c":75,"r":27,"v":0.45},{"c":75,"r":28,"v":0.60},{"c":75,"r":29,"v":0.70},{"c":75,"r":30,"v":0.78},{"c":75,"r":31,"v":0.78},{"c":75,"r":32,"v":0.78},{"c":75,"r":33,"v":0.78},{"c":75,"r":34,"v":0.78},{"c":75,"r":35,"v":0.78},{"c":75,"r":36,"v":0.78},{"c":75,"r":37,"v":0.78},{"c":75,"r":38,"v":0.78},
{"c":76,"r":0,"v":0.05},{"c":76,"r":1,"v":0.05},{"c":76,"r":2,"v":0.05},{"c":76,"r":3,"v":0.05},{"c":76,"r":4,"v":0.05},{"c":76,"r":5,"v":0.05},{"c":76,"r":6,"v":0.05},{"c":76,"r":7,"v":0.05},{"c":76,"r":8,"v":0.05},{"c":76,"r":9,"v":0.05},{"c":76,"r":10,"v":0.05},{"c":76,"r":11,"v":0.05},{"c":76,"r":12,"v":0.05},{"c":76,"r":13,"v":0.05},{"c":76,"r":14,"v":0.05},{"c":76,"r":15,"v":0.05},{"c":76,"r":16,"v":0.05},{"c":76,"r":17,"v":0.05},{"c":76,"r":18,"v":0.05},{"c":76,"r":19,"v":0.05},{"c":76,"r":20,"v":0.05},{"c":76,"r":21,"v":0.05},{"c":76,"r":22,"v":0.05},{"c":76,"r":23,"v":0.05},{"c":76,"r":24,"v":0.05},{"c":76,"r":25,"v":0.05},{"c":76,"r":26,"v":0.19},{"c":76,"r":27,"v":0.40},{"c":76,"r":28,"v":0.40},{"c":76,"r":29,"v":0.40},{"c":76,"r":30,"v":0.40},{"c":76,"r":31,"v":0.40},{"c":76,"r":32,"v":0.40},{"c":76,"r":33,"v":0.40},{"c":76,"r":34,"v":0.40},{"c":76,"r":35,"v":0.40},{"c":76,"r":36,"v":0.40},{"c":76,"r":37,"v":0.40},{"c":76,"r":38,"v":0.40},
{"c":77,"r":0,"v":0.05},{"c":77,"r":1,"v":0.05},{"c":77,"r":2,"v":0.05},{"c":77,"r":3,"v":0.05},{"c":77,"r":4,"v":0.05},{"c":77,"r":5,"v":0.05},{"c":77,"r":6,"v":0.05},{"c":77,"r":7,"v":0.05},{"c":77,"r":8,"v":0.05},{"c":77,"r":9,"v":0.05},{"c":77,"r":10,"v":0.05},{"c":77,"r":11,"v":0.05},{"c":77,"r":12,"v":0.05},{"c":77,"r":13,"v":0.05},{"c":77,"r":14,"v":0.05},{"c":77,"r":15,"v":0.05},{"c":77,"r":16,"v":0.05},{"c":77,"r":17,"v":0.05},{"c":77,"r":18,"v":0.05},{"c":77,"r":19,"v":0.05},{"c":77,"r":20,"v":0.05},{"c":77,"r":21,"v":0.05},{"c":77,"r":22,"v":0.07},{"c":77,"r":23,"v":0.10},{"c":77,"r":24,"v":0.13},{"c":77,"r":25,"v":0.13},{"c":77,"r":26,"v":0.13},{"c":77,"r":27,"v":0.13},{"c":77,"r":28,"v":0.13},{"c":77,"r":29,"v":0.13},{"c":77,"r":30,"v":0.13},{"c":77,"r":31,"v":0.13},{"c":77,"r":32,"v":0.13},{"c":77,"r":33,"v":0.13},{"c":77,"r":34,"v":0.13},{"c":77,"r":35,"v":0.13},{"c":77,"r":36,"v":0.13},{"c":77,"r":37,"v":0.13},{"c":77,"r":38,"v":0.13},
{"c":78,"r":0,"v":0.05},{"c":78,"r":1,"v":0.05},{"c":78,"r":2,"v":0.05},{"c":78,"r":3,"v":0.05},{"c":78,"r":4,"v":0.05},{"c":78,"r":5,"v":0.05},{"c":78,"r":6,"v":0.05},{"c":78,"r":7,"v":0.05},{"c":78,"r":8,"v":0.05},{"c":78,"r":9,"v":0.05},{"c":78,"r":10,"v":0.05},{"c":78,"r":11,"v":0.05},{"c":78,"r":12,"v":0.05},{"c":78,"r":13,"v":0.05},{"c":78,"r":14,"v":0.05},{"c":78,"r":15,"v":0.05},{"c":78,"r":16,"v":0.05},{"c":78,"r":17,"v":0.05},{"c":78,"r":18,"v":0.05},{"c":78,"r":19,"v":0.05},{"c":78,"r":20,"v":0.05},{"c":78,"r":21,"v":0.05},{"c":78,"r":22,"v":0.05},{"c":78,"r":23,"v":0.05},{"c":78,"r":24,"v":0.05},{"c":78,"r":25,"v":0.05},{"c":78,"r":26,"v":0.19},{"c":78,"r":27,"v":0.40},{"c":78,"r":28,"v":0.40},{"c":78,"r":29,"v":0.55},{"c":78,"r":30,"v":0.55},{"c":78,"r":31,"v":0.55},{"c":78,"r":32,"v":0.55},{"c":78,"r":33,"v":0.55},{"c":78,"r":34,"v":0.55},{"c":78,"r":35,"v":0.55},{"c":78,"r":36,"v":0.55},{"c":78,"r":37,"v":0.55},{"c":78,"r":38,"v":0.55},
{"c":79,"r":0,"v":0.05},{"c":79,"r":1,"v":0.05},{"c":79,"r":2,"v":0.05},{"c":79,"r":3,"v":0.05},{"c":79,"r":4,"v":0.05},{"c":79,"r":5,"v":0.07},{"c":79,"r":6,"v":0.09},{"c":79,"r":7,"v":0.11},{"c":79,"r":8,"v":0.13},{"c":79,"r":9,"v":0.15},{"c":79,"r":10,"v":0.18},{"c":79,"r":11,"v":0.18},{"c":79,"r":12,"v":0.18},{"c":79,"r":13,"v":0.18},{"c":79,"r":14,"v":0.18},{"c":79,"r":15,"v":0.18},{"c":79,"r":16,"v":0.18},{"c":79,"r":17,"v":0.18},{"c":79,"r":18,"v":0.18},{"c":79,"r":19,"v":0.18},{"c":79,"r":20,"v":0.18},{"c":79,"r":21,"v":0.18},{"c":79,"r":22,"v":0.18},{"c":79,"r":23,"v":0.18},{"c":79,"r":24,"v":0.18},{"c":79,"r":25,"v":0.18},{"c":79,"r":26,"v":0.18},{"c":79,"r":27,"v":0.18},{"c":79,"r":28,"v":0.18},{"c":79,"r":29,"v":0.18},{"c":79,"r":30,"v":0.18},{"c":79,"r":31,"v":0.18},{"c":79,"r":32,"v":0.18},{"c":79,"r":33,"v":0.18},{"c":79,"r":34,"v":0.18},{"c":79,"r":35,"v":0.18},{"c":79,"r":36,"v":0.18},{"c":79,"r":37,"v":0.18},{"c":79,"r":38,"v":0.18},
{"c":80,"r":0,"v":0.05},{"c":80,"r":1,"v":0.05},{"c":80,"r":2,"v":0.05},{"c":80,"r":3,"v":0.05},{"c":80,"r":4,"v":0.05},{"c":80,"r":5,"v":0.05},{"c":80,"r":6,"v":0.05},{"c":80,"r":7,"v":0.05},{"c":80,"r":8,"v":0.05},{"c":80,"r":9,"v":0.05},{"c":80,"r":10,"v":0.05},{"c":80,"r":11,"v":0.05},{"c":80,"r":12,"v":0.05},{"c":80,"r":13,"v":0.05},{"c":80,"r":14,"v":0.05},{"c":80,"r":15,"v":0.05},{"c":80,"r":16,"v":0.05},{"c":80,"r":17,"v":0.05},{"c":80,"r":18,"v":0.05},{"c":80,"r":19,"v":0.05},{"c":80,"r":20,"v":0.05},{"c":80,"r":21,"v":0.05},{"c":80,"r":22,"v":0.05},{"c":80,"r":23,"v":0.05},{"c":80,"r":24,"v":0.05},{"c":80,"r":25,"v":0.13},{"c":80,"r":26,"v":0.26},{"c":80,"r":27,"v":0.45},{"c":80,"r":28,"v":0.45},{"c":80,"r":29,"v":0.45},{"c":80,"r":30,"v":0.45},{"c":80,"r":31,"v":0.45},{"c":80,"r":32,"v":0.45},{"c":80,"r":33,"v":0.45},{"c":80,"r":34,"v":0.45},{"c":80,"r":35,"v":0.45},{"c":80,"r":36,"v":0.45},{"c":80,"r":37,"v":0.45},{"c":80,"r":38,"v":0.45}
]},
"layer": [
{
"mark": {"type": "rect", "clip": true, "width": 31.5, "height": 35},
"encoding": {
"x": {"field": "c", "type": "quantitative", "scale": {"domain": [40.295, 80.46], "nice": false, "zero": false},
 "axis": {"orient": "bottom", "title": null, "grid": false, "zindex": 1, "values": [41,42,43,44,45,46,47,48,49,50,51,52,53,54,55,56,57,58,59,60,61,62,63,64,65,66,67,68,69,70,71,72,73,74,75,76,77,78,79,80],
  "tickSize": -22, "tickColor": "#000000", "tickWidth": 1, "domainColor": "#000000", "domainWidth": 1.5,
  "labelAngle": -45, "labelFontSize": 11, "labelColor": "#222222", "labelPadding": 35, "labelOffset": -6, "labelFont": "Liberation Sans", "labelFlush": false, "labelOverlap": false}},
"y": {"field": "r", "type": "quantitative", "scale": {"domain": [-0.5, 38.5], "reverse": true, "nice": false, "zero": false}, "axis": null},
"color": {"field": "v", "type": "quantitative", "legend": null,
 "scale": {"type": "linear", "interpolate": "rgb", "domain": [0, 0.125, 0.375, 0.625, 0.875, 1], "range": ["#000080", "#0000ff", "#00ffff", "#ffff00", "#ff0000", "#800000"]}}
}
},
{
"mark": {"type": "text", "clip": true, "fontSize": 7.5, "font": "Liberation Sans", "color": "#ffffff", "opacity": 0.7, "align": "center", "baseline": "middle"},
"encoding": {
"x": {"field": "c", "type": "quantitative",
 "axis": {"orient": "top", "title": null, "grid": false, "labels": false, "zindex": 1, "values": [41,42,43,44,45,46,47,48,49,50,51,52,53,54,55,56,57,58,59,60,61,62,63,64,65,66,67,68,69,70,71,72,73,74,75,76,77,78,79,80],
  "tickSize": -22, "tickColor": "#000000", "tickWidth": 1, "domainColor": "#000000", "domainWidth": 1.5}},
"y": {"field": "r", "type": "quantitative",
 "axis": {"orient": "right", "title": null, "grid": false, "labels": false, "zindex": 1, "values": [0,1,2,3,4,5,6,7,8,9,10,11,12,13,14,15,16,17,18,19,20,21,22,23,24,25,26,27,28,29,30,31,32,33,34,35,36,37,38],
  "tickSize": -25, "tickColor": "#000000", "tickWidth": 1, "domainColor": "#000000", "domainWidth": 1.5}},
"text": {"field": "v", "type": "quantitative", "format": "$.2f"}
}
}
],
"resolve": {"axis": {"x": "independent", "y": "independent"}}
}
